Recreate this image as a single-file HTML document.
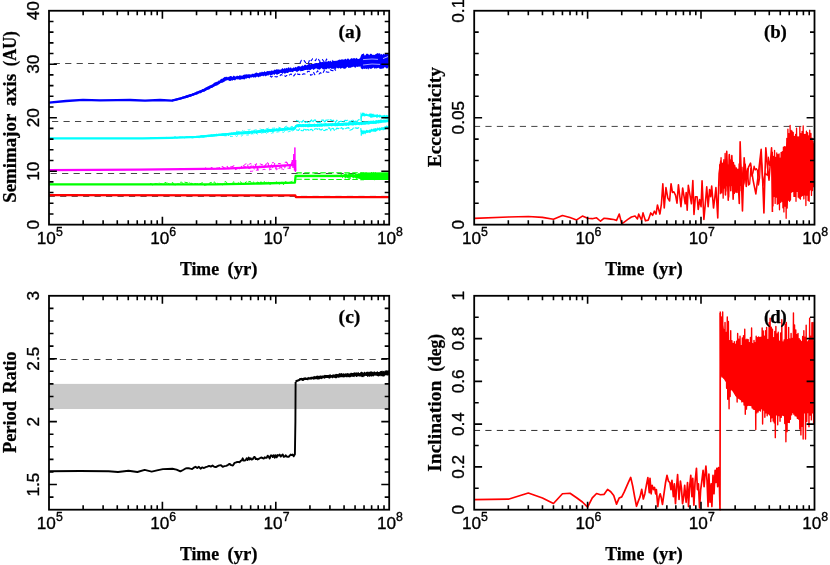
<!DOCTYPE html>
<html><head><meta charset="utf-8"><title>chart</title>
<style>
html,body{margin:0;padding:0;background:#fff;}
body{width:830px;height:565px;overflow:hidden;font-family:"Liberation Sans",sans-serif;}
svg{display:block;will-change:transform;}
text{stroke:#000;stroke-linejoin:round;}
.sa{stroke-width:0.35px;}
.se{stroke-width:0.25px;}
</style></head><body>
<svg width="830" height="565" viewBox="0 0 830 565">
<rect width="830" height="565" fill="#fff"/>
<path d="M49 63.5H389.2" stroke="#111" stroke-width="0.78" stroke-dasharray="6.2 5.27" stroke-dashoffset="6.79" fill="none"/>
<path d="M49 121.5H389.2" stroke="#111" stroke-width="0.78" stroke-dasharray="6.2 5.27" stroke-dashoffset="8.43" fill="none"/>
<path d="M49 173.5H389.2" stroke="#111" stroke-width="0.78" stroke-dasharray="6.2 5.27" stroke-dashoffset="9.87" fill="none"/>
<path d="M49 196.4H389.2" stroke="#111" stroke-width="0.78" stroke-dasharray="6.2 5.27" stroke-dashoffset="0.33" fill="none"/>
<path d="M49 195.1 L295.3 195.4 L295.9 197.2 L389.2 197.2" fill="none" stroke="#f00" stroke-width="2.3" stroke-linejoin="round" stroke-linecap="butt" />
<path d="M49 184.4 L215 184.4 L260 183.5 L294.9 182.6 L295.6 176 L389.2 175.8" fill="none" stroke="#0f0" stroke-width="2.3" stroke-linejoin="round" stroke-linecap="butt" />
<path d="M150 183.65 L151.5 183.98 L153 185.14 L154.5 183.66 L156 183.78 L157.5 184.03 L159 182.72 L160.5 183.77 L162 184.14 L163.5 184.66 L165 182.37 L166.5 183.04 L168 182.33 L169.5 184.68 L171 184.29 L172.5 182.13 L174 185.22 L175.5 185.16 L177 184.12 L178.5 183.99 L180 182.45 L181.5 181.97 L183 183.67 L184.5 182.09 L186 182.51 L187.5 182.67 L189 181.95 L190.5 183.4 L192 183.31 L193.5 184.66 L195 183.55 L196.5 183.95 L198 183.47 L199.5 184.01 L201 183.3 L202.5 182.68 L204 185.13 L205.5 185.12 L207 184.57 L208.5 184.11 L210 182.75 L211.5 182.44 L213 182.63 L214.5 181.86 L216 184.27 L217.5 182.98 L219 184.53 L220.5 182.91 L222 184.9 L223.5 184.51 L225 181.52 L226.5 182.25 L228 184.7 L229.5 183.14 L231 184.94 L232.5 182.86 L234 181.7 L235.5 183.67 L237 184.19 L238.5 182.36 L240 181.7 L241.5 182.57 L243 184.82 L244.5 184.07 L246 181.76 L247.5 182.21 L249 181.67 L250.5 181.51 L252 184.17 L253.5 181.91 L255 183.29 L256.5 182.87 L258 181.92 L259.5 183.89 L261 181.68 L262.5 183.55 L264 181.6 L265.5 182.71 L267 181.93 L268.5 182.13 L270 184.71 L271.5 184.08 L273 182.22 L274.5 184.37 L276 181.85 L277.5 182.52 L279 184.23 L280.5 183.42 L282 181.38 L283.5 184.71 L285 181.78 L286.5 181.94 L288 183.87 L289.5 182.18 L291 182.05 L292.5 181.19 L294 181.24" fill="none" stroke="#0f0" stroke-width="1" stroke-linejoin="round" stroke-linecap="butt" stroke-dasharray="4 1.6"/>
<path d="M296.3 172.9 L364 172.7" fill="none" stroke="#0f0" stroke-width="1.1" stroke-linejoin="round" stroke-linecap="butt" stroke-dasharray="5.5 2.5"/>
<path d="M296.3 179.3 L364 179.6" fill="none" stroke="#0f0" stroke-width="1.1" stroke-linejoin="round" stroke-linecap="butt" stroke-dasharray="5.5 2.5"/>
<path d="M352 175L364 172.5L389.2 172.2V180L364 179.9L352 177Z" fill="#0f0"/>
<path d="M340 175.98 L340.35 176.86 L340.7 176.91 L341.05 174.33 L341.4 173.66 L341.75 175.47 L342.1 174.95 L342.45 177.69 L342.8 177.09 L343.15 176.63 L343.5 176.41 L343.85 176.96 L344.2 174.19 L344.55 175.78 L344.9 174.25 L345.25 178.34 L345.6 173.65 L345.95 177.89 L346.3 173.69 L346.65 177.17 L347 175.16 L347.35 175.55 L347.7 178.1 L348.05 173.26 L348.4 173.49 L348.75 178.59 L349.1 176.15 L349.45 173.61 L349.8 179.09 L350.15 178.86 L350.5 173.69 L350.85 175.62 L351.2 173.79 L351.55 174.9 L351.9 176.88 L352.25 173.92 L352.6 177.38 L352.95 173.15 L353.3 173.93 L353.65 178.2 L354 175.43 L354.35 175.55 L354.7 176.75 L355.05 175.94 L355.4 175.3 L355.75 172.84 L356.1 177.68 L356.45 179.39 L356.8 179.48 L357.15 177.27 L357.5 175.07 L357.85 175.11 L358.2 177.48 L358.55 177.37 L358.9 173.25 L359.25 174.13 L359.6 175.08 L359.95 176.19 L360.3 178.45 L360.65 176.1 L361 172.48 L361.35 178.59 L361.7 175.56 L362.05 176.25 L362.4 173.93 L362.75 175.53 L363.1 175.23 L363.45 178.23 L363.8 172.99 L364.15 176.49 L364.5 173.58 L364.85 177.64 L365.2 172.47 L365.55 174.35 L365.9 174.88 L366.25 177.18 L366.6 172.58 L366.95 175.78 L367.3 173.81 L367.65 174.38 L368 175.91 L368.35 179.72 L368.7 175.95 L369.05 179.7 L369.4 173.47 L369.75 179.46 L370.1 175.02 L370.45 173.64 L370.8 178.07 L371.15 179.37 L371.5 172.18 L371.85 174.26 L372.2 178.25 L372.55 174.84 L372.9 174.04 L373.25 172.19 L373.6 172.43 L373.95 177.05 L374.3 179.96 L374.65 180.08 L375 176.13 L375.35 172.29 L375.7 174.68 L376.05 178.4 L376.4 178.76 L376.75 177.22 L377.1 173.93 L377.45 176.32 L377.8 175.92 L378.15 177.12 L378.5 174.19 L378.85 179.7 L379.2 179.28 L379.55 173.38 L379.9 174.42 L380.25 179.11 L380.6 174.31 L380.95 179.69 L381.3 176.22 L381.65 177.69 L382 177.76 L382.35 173.78 L382.7 174.36 L383.05 174.11 L383.4 177.59 L383.75 177.68 L384.1 173.11 L384.45 179.24 L384.8 175.45 L385.15 173.99 L385.5 175.57 L385.85 180.01 L386.2 176.59 L386.55 177.12 L386.9 179.53 L387.25 179.88 L387.6 178.23 L387.95 175.43 L388.3 176.82 L388.65 179.39" fill="none" stroke="#0f0" stroke-width="0.8" stroke-linejoin="round" stroke-linecap="butt" />
<path d="M49 170.1 L140 169.7 L225 168.6 L260 167 L290 165.2 L294.1 165" fill="none" stroke="#f0f" stroke-width="2.3" stroke-linejoin="round" stroke-linecap="butt" />
<path d="M205 167.84 L206.7 168.66 L208.4 168.54 L210.1 168.2 L211.8 167.59 L213.5 168.82 L215.2 168.85 L216.9 168.1 L218.6 168.04 L220.3 167.23 L222 166.46 L223.7 167.49 L225.4 168.12 L227.1 166.35 L228.8 168.79 L230.5 166.74 L232.2 166.66 L233.9 165.84 L235.6 169.61 L237.3 168.54 L239 169.15 L240.7 167.94 L242.4 165 L244.1 166.37 L245.8 167.19 L247.5 164.96 L249.2 169.74 L250.9 166.21 L252.6 164.76 L254.3 168.97 L256 164.27 L257.7 169.77 L259.4 166.36 L261.1 167.02 L262.8 165.36 L264.5 166.35 L266.2 163.94 L267.9 162.66 L269.6 169.09 L271.3 163.99 L273 168.27 L274.7 163.56 L276.4 169.66 L278.1 168.99 L279.8 167.77 L281.5 167.76 L283.2 166.15 L284.9 167.34 L286.6 162.05 L288.3 164.99 L290 167.96 L291.7 162.39" fill="none" stroke="#f0f" stroke-width="1.05" stroke-linejoin="round" stroke-linecap="butt" stroke-dasharray="4 2"/>
<path d="M291.5 166 L292.3 160 L293.1 168 L293.8 154 L294.4 170.5 L294.9 147.5 L295.4 172 L295.7 160 L296 171" fill="none" stroke="#f0f" stroke-width="1" stroke-linejoin="round" stroke-linecap="butt" />
<path d="M49 138.4 L142.6 138.3 L170 137.8 L196.8 136.9 L225 134.4 L260 131.4 L294.8 128.4 L296.2 125.8 L338 124.5 L364.5 123.2 L389 120.6" fill="none" stroke="#0ff" stroke-width="2.3" stroke-linejoin="round" stroke-linecap="butt" />
<path d="M150 137.77 L151.5 137.8 L153 138.01 L154.5 138.26 L156 137.7 L157.5 137.63 L159 137.71 L160.5 138.26 L162 137.53 L163.5 138.21 L165 138.09 L166.5 137.39 L168 137.88 L169.5 137.74 L171 137.64 L172.5 138.44 L174 137.06 L175.5 136.88 L177 138.25 L178.5 137.36 L180 136.97 L181.5 137.13 L183 137.13 L184.5 138.1 L186 136.75 L187.5 136.71 L189 137.32 L190.5 137.2 L192 137.92 L193.5 137.66 L195 136.68 L196.5 136.32 L198 137.48 L199.5 137.69 L201 135.52 L202.5 136.91 L204 137.09 L205.5 136.48 L207 135.33 L208.5 136.58 L210 136.3 L211.5 134.82 L213 135.83 L214.5 134.59 L216 133.97 L217.5 134.62 L219 134.47 L220.5 134.5 L222 135.09 L223.5 135.52 L225 135.78 L226.5 135.72 L228 135.67 L229.5 134.92 L231 133.27 L232.5 132.72 L234 134.03 L235.5 133.65 L237 133.95 L238.5 131.87 L240 132.06 L241.5 134.45 L243 133.21 L244.5 133.42 L246 131.14 L247.5 132.1 L249 133.85 L250.5 132.77 L252 133.94 L253.5 130.8 L255 131.65 L256.5 132.87 L258 131.35 L259.5 132.59 L261 131.56 L262.5 129.64 L264 129.42 L265.5 132.9 L267 129.23 L268.5 129.4 L270 129.85 L271.5 131.3 L273 131.78 L274.5 130.05 L276 130.01 L277.5 131.13 L279 128.8 L280.5 129.08 L282 130 L283.5 129.97 L285 127.2 L286.5 127.39 L288 127.36 L289.5 129.87 L291 129.6 L292.5 130.76 L294 129.7" fill="none" stroke="#0ff" stroke-width="1" stroke-linejoin="round" stroke-linecap="butt" stroke-dasharray="5 1.2"/>
<path d="M296 120.33 L297.2 120.73 L298.4 120.98 L299.6 122.76 L300.8 121.53 L302 122.19 L303.2 120.32 L304.4 121.53 L305.6 122.52 L306.8 121.54 L308 122.79 L309.2 122.59 L310.4 121.04 L311.6 119.92 L312.8 122.17 L314 120.27 L315.2 119.9 L316.4 122.05 L317.6 122.37 L318.8 122.34 L320 122.68 L321.2 120.41 L322.4 120.03 L323.6 120.14 L324.8 122.69 L326 120.08 L327.2 120.21 L328.4 119.78 L329.6 119.85 L330.8 119.81 L332 120.75 L333.2 120.17 L334.4 120.6 L335.6 122.45 L336.8 120.16 L338 122.09 L339.2 121.85 L340.4 121.34 L341.6 121.35 L342.8 121.92 L344 121.37 L345.2 120.29 L346.4 120.58 L347.6 120.31 L348.8 120.78 L350 122.53 L351.2 120.84 L352.4 119.76 L353.6 120.97 L354.8 121.97 L356 120.86 L357.2 121.62 L358.4 119.78 L359.6 119.69" fill="none" stroke="#0ff" stroke-width="1.15" stroke-linejoin="round" stroke-linecap="butt" stroke-dasharray="5 1"/>
<path d="M296 129.81 L297.2 129.98 L298.4 130.52 L299.6 128.89 L300.8 130 L302 130.7 L303.2 130.74 L304.4 128.56 L305.6 129.94 L306.8 129.82 L308 129.47 L309.2 130.84 L310.4 129.52 L311.6 129.25 L312.8 130.73 L314 129.8 L315.2 128.78 L316.4 128.79 L317.6 129.33 L318.8 127.99 L320 129.64 L321.2 130.01 L322.4 129.07 L323.6 130.32 L324.8 130.55 L326 129.41 L327.2 129.78 L328.4 128.07 L329.6 127.87 L330.8 130.63 L332 128.54 L333.2 128.32 L334.4 130.36 L335.6 129.91 L336.8 128.02 L338 128.61 L339.2 128.37 L340.4 128.45 L341.6 127.64 L342.8 129.19 L344 128.52 L345.2 128.78 L346.4 128.15 L347.6 127.91 L348.8 127.67 L350 130.18 L351.2 129.8 L352.4 129.23 L353.6 127.91 L354.8 127.98 L356 127.88 L357.2 128.47 L358.4 127.68 L359.6 128.33" fill="none" stroke="#0ff" stroke-width="1.15" stroke-linejoin="round" stroke-linecap="butt" stroke-dasharray="5 1"/>
<path d="M49 102.6 L66 101 L83 99.8 L100 100.4 L117 100.1 L130 100 L145 100.7 L160 100 L171.9 100.6 L180 98.6 L190 95.6 L196.8 93 L205 89.6 L213.3 85.4 L225.2 79.2 L239.8 77.5 L253 75.7 L266.3 73.5 L279.5 71.5 L292.8 69.8 L306 67.8 L315.3 66 L340.6 64 L360.8 62.1 L378.6 60.9 L389 60.4" fill="none" stroke="#00f" stroke-width="2.3" stroke-linejoin="round" stroke-linecap="butt" />
<path d="M172 99.72 L172.9 99.53 L173.8 99.3 L174.7 99.01 L175.6 98.77 L176.5 98.62 L177.4 98.36 L178.3 97.91 L179.2 97.62 L180.1 97.68 L181 97.14 L181.9 97.08 L182.8 96.52 L183.7 96.56 L184.6 95.94 L185.5 95.85 L186.4 95.36 L187.3 95 L188.2 94.73 L189.1 94.58 L190 94.08 L190.9 94.08 L191.8 93.96 L192.7 93.17 L193.6 92.96 L194.5 92.81 L195.4 92.5 L196.3 91.5 L197.2 91.83 L198.1 90.91 L199 90.84 L199.9 90.55 L200.8 90.29 L201.7 89.87 L202.6 89.03 L203.5 88.94 L204.4 88.5 L205.3 87.77 L206.2 87.28 L207.1 87.35 L208 86 L208.9 86.49 L209.8 85.25 L210.7 85.6 L211.6 84.76 L212.5 84.66 L213.4 83.38 L214.3 82.78 L215.2 82.31 L216.1 82.37 L217 81.49 L217.9 81.84 L218.8 80.35 L219.7 80.67 L220.6 79.3 L221.5 78.71 L222.4 78.84 L223.3 78.12 L224.2 77.36 L225.1 76.8 L226 77.13 L226.9 76.54 L227.8 77.46 L228.7 76.76 L229.6 76.61 L230.5 76.07 L231.4 76.12 L232.3 77.19 L233.2 75.68 L234.1 75.71 L235 76.38 L235.9 76.76 L236.8 75.71 L237.7 75.81 L238.6 76.21 L239.5 75.32 L240.4 75.43 L241.3 75.58 L242.2 75.92 L243.1 74.95 L244 74.63 L244.9 74.62 L245.8 74.6 L246.7 74.16 L247.6 74.4 L248.5 74.37 L249.4 74.23 L250.3 74.39 L251.2 74.65 L252.1 73.43 L253 73.95 L253.9 73.75 L254.8 73.5 L255.7 72.78 L256.6 72.58 L257.5 72.98 L258.4 73.49 L259.3 72.47 L260.2 72.15 L261.1 72.45 L262 71.62 L262.9 72.21 L263.8 71.89 L264.7 71.09 L265.6 72.2 L266.5 71.42 L267.4 71 L268.3 71.33 L269.2 70.82 L270.1 71.6 L271 70.58 L271.9 70.58 L272.8 70.68 L273.7 70.54 L274.6 69.43 L275.5 69.93 L276.4 69.17 L277.3 69.49 L278.2 69.15 L279.1 69.68 L280 69.41 L280.9 69.71 L281.8 68.74 L282.7 68.12 L283.6 69.14 L284.5 68.12 L285.4 68.76 L286.3 67.7 L287.2 68.39 L288.1 67.6 L289 67.24 L289.9 68.59 L290.8 67.07 L291.7 68.38 L292.6 68.35 L293.5 67.18 L294.4 68.07 L295.3 66.8 L296.2 67.41 L297.1 66.98 L298 65.95 L298.9 66.34 L299.8 66.15 L300.7 66.76 L301.6 66.12 L302.5 65.31 L303.4 66.27 L304.3 64.92 L305.2 64.58 L306.1 65.36 L307 65.34 L307.9 64.49 L308.8 63.89 L309.7 63.48 L310.6 64.52 L311.5 63.71 L312.4 64.09 L313.3 63.98 L314.2 63.5 L315.1 63.15 L316 63.05 L316.9 62.95 L317.8 63.36 L318.7 62.94 L319.6 61.75 L320.5 61.8 L321.4 62.25 L322.3 61.86 L323.2 62.34 L324.1 61.51 L325 62.13 L325.9 61.25 L326.8 61.65 L327.7 61.41 L328.6 60.75 L329.5 61.89 L330.4 60.56 L331.3 61.69 L332.2 61.63 L333.1 60.68 L334 60.85 L334.9 61.01 L335.8 60.69 L336.7 60.7 L337.6 60.51 L338.5 59.88 L339.4 59.55 L340.3 59.92 L341.2 59.37 L342.1 59.69 L343 59.12 L343.9 59.91 L344.8 59 L345.7 58.79 L346.6 59.65 L347.5 58.55 L348.4 58.5 L349.3 59.77 L350.2 59.33 L351.1 58.27 L352 58.31 L352.9 58.83 L353.8 57.95 L354.7 58.25 L355.6 58.82 L356.5 57.73 L357.4 58.67 L358.3 58.93 L359.2 58.86 L360.1 58.09 L361 55.53 L361.9 54.07 L362.8 53.99 L363.7 53.26 L364.6 55.47 L365.5 55.24 L366.4 53.75 L367.3 53.87 L368.2 53.98 L369.1 55.27 L370 54.37 L370.9 53.45 L371.8 54.31 L372.7 54.99 L373.6 54.73 L374.5 54.96 L375.4 54.16 L376.3 54.05 L377.2 52.99 L378.1 53.5 L379 53.41 L379.9 53.29 L380.8 54.78 L381.7 53.8 L382.6 55.12 L383.5 53.55 L384.4 54.58 L385.3 53.76 L386.2 53.99 L387.1 54.37 L388 53.23 L388.9 53.31 L388.9 66.25 L388 67.9 L387.1 68.54 L386.2 68.25 L385.3 67.25 L384.4 67.25 L383.5 68.5 L382.6 68.54 L381.7 68.73 L380.8 68.79 L379.9 69.01 L379 68.12 L378.1 67.66 L377.2 68.25 L376.3 68.46 L375.4 68.36 L374.5 68.65 L373.6 67.4 L372.7 67.89 L371.8 68.44 L370.9 68.92 L370 68.46 L369.1 68.19 L368.2 69.67 L367.3 68.35 L366.4 69.31 L365.5 68.42 L364.6 69.1 L363.7 68.42 L362.8 69.14 L361.9 68.99 L361 68.23 L360.1 65.94 L359.2 67.1 L358.3 66.4 L357.4 67.11 L356.5 66.49 L355.6 67.78 L354.7 67.39 L353.8 66.61 L352.9 67.14 L352 66.87 L351.1 67.78 L350.2 67.84 L349.3 67.69 L348.4 68.11 L347.5 66.75 L346.6 67.49 L345.7 68.53 L344.8 68.64 L343.9 68.66 L343 68.37 L342.1 67.85 L341.2 68.61 L340.3 68.73 L339.4 67.72 L338.5 68.48 L337.6 68.37 L336.7 67.45 L335.8 69.22 L334.9 68.57 L334 69.33 L333.1 68.46 L332.2 69 L331.3 68.8 L330.4 67.98 L329.5 68.76 L328.6 68.72 L327.7 68.19 L326.8 69.09 L325.9 69.46 L325 68.78 L324.1 69.3 L323.2 69.44 L322.3 68.85 L321.4 68.03 L320.5 68.9 L319.6 69.66 L318.7 69.29 L317.8 69.51 L316.9 68.48 L316 68.57 L315.1 68.64 L314.2 69.5 L313.3 69.99 L312.4 68.78 L311.5 69.37 L310.6 70.06 L309.7 70.21 L308.8 69.4 L307.9 70.58 L307 69.8 L306.1 69.89 L305.2 69.99 L304.3 70.35 L303.4 70.65 L302.5 71.06 L301.6 70.88 L300.7 71.54 L299.8 70.33 L298.9 70.97 L298 71.34 L297.1 72.2 L296.2 71.51 L295.3 70.89 L294.4 71.08 L293.5 71.62 L292.6 72.16 L291.7 71.63 L290.8 71.98 L289.9 71.79 L289 71.94 L288.1 72.97 L287.2 72.93 L286.3 72.76 L285.4 73.38 L284.5 73.63 L283.6 72.51 L282.7 73.95 L281.8 73.17 L280.9 72.84 L280 73.06 L279.1 73.9 L278.2 74 L277.3 74.7 L276.4 74.58 L275.5 73.48 L274.6 74.94 L273.7 74.14 L272.8 74.38 L271.9 75.05 L271 75.24 L270.1 75.51 L269.2 74.35 L268.3 75.81 L267.4 75.22 L266.5 75.69 L265.6 76.39 L264.7 75.2 L263.8 76.47 L262.9 75.57 L262 76.19 L261.1 75.71 L260.2 77 L259.3 76.53 L258.4 77.4 L257.5 76.48 L256.6 76.45 L255.7 77.63 L254.8 76.95 L253.9 77.63 L253 77.34 L252.1 77.01 L251.2 77.87 L250.3 77.2 L249.4 78.68 L248.5 77.92 L247.6 77.76 L246.7 78.66 L245.8 78.2 L244.9 79.37 L244 79.5 L243.1 79.09 L242.2 79.26 L241.3 79.27 L240.4 79.68 L239.5 79.64 L238.6 79.35 L237.7 79.43 L236.8 79.07 L235.9 79.6 L235 80.41 L234.1 80.11 L233.2 80.06 L232.3 80.63 L231.4 80.15 L230.5 80.89 L229.6 81.01 L228.7 80.45 L227.8 80.07 L226.9 80.45 L226 80.29 L225.1 81.31 L224.2 81.75 L223.3 82.13 L222.4 82.75 L221.5 82.76 L220.6 82.97 L219.7 83.63 L218.8 84.53 L217.9 84.85 L217 85.68 L216.1 85.48 L215.2 85.95 L214.3 86.41 L213.4 86.94 L212.5 87.68 L211.6 88.01 L210.7 87.91 L209.8 89.22 L208.9 89.34 L208 90.03 L207.1 89.59 L206.2 90.53 L205.3 91 L204.4 91.84 L203.5 91.67 L202.6 91.95 L201.7 92.56 L200.8 93.21 L199.9 93.27 L199 93.34 L198.1 93.89 L197.2 94.53 L196.3 94.66 L195.4 94.8 L194.5 95.19 L193.6 95.8 L192.7 95.73 L191.8 96.2 L190.9 96.61 L190 97.12 L189.1 96.83 L188.2 97.44 L187.3 97.75 L186.4 97.95 L185.5 98.32 L184.6 98.27 L183.7 98.42 L182.8 99.09 L181.9 99.01 L181 99.56 L180.1 99.59 L179.2 99.92 L178.3 99.94 L177.4 100.35 L176.5 100.49 L175.6 100.73 L174.7 100.76 L173.8 100.95 L172.9 101.23 L172 101.47Z" fill="#00f"/>
<path d="M363 59.6 L372 59 L378 59.4" fill="none" stroke="#fff" stroke-width="0.8" stroke-linejoin="round" stroke-linecap="butt" opacity="0.8"/>
<path d="M363 65 L372 64 L380 64.4" fill="none" stroke="#fff" stroke-width="0.8" stroke-linejoin="round" stroke-linecap="butt" opacity="0.8"/>
<path d="M383 58.6 L388 56.6" fill="none" stroke="#fff" stroke-width="0.9" stroke-linejoin="round" stroke-linecap="butt" opacity="0.8"/>
<path d="M300 63.28 L301.4 60.35 L302.8 61.01 L304.2 60.63 L305.6 62.65 L307 62.27 L308.4 63.12 L309.8 59.33 L311.2 60.71 L312.6 58.69 L314 59.42 L315.4 60.69 L316.8 58.1 L318.2 58.86 L319.6 61.32 L321 60.92 L322.4 59.49 L323.8 61.4 L325.2 62.54 L326.6 59.06 L328 62.73 L329.4 62.38 L330.8 61.02 L332.2 60.43 L333.6 63.47" fill="none" stroke="#00f" stroke-width="1.1" stroke-linejoin="round" stroke-linecap="butt" stroke-dasharray="3.5 2.2"/>
<path d="M270 75.84 L271.4 77.12 L272.8 75.76 L274.2 76.35 L275.6 76.72 L277 76.91 L278.4 75.93 L279.8 75.92 L281.2 74.49 L282.6 75.48 L284 75.18 L285.4 76.46 L286.8 75.43 L288.2 75.96 L289.6 74.83 L291 73.85 L292.4 76.01 L293.8 75.83 L295.2 74.1 L296.6 72.89 L298 74.38 L299.4 74.2 L300.8 75.27 L302.2 74.41 L303.6 73.89 L305 74.07 L306.4 73.06 L307.8 71.44 L309.2 71.36 L310.6 75.29 L312 74.7 L313.4 72.05 L314.8 74.71 L316.2 72.86 L317.6 70.73 L319 74.11 L320.4 72.58 L321.8 73.88 L323.2 72.49 L324.6 69.75 L326 71.73 L327.4 72.13 L328.8 72.29 L330.2 69.88 L331.6 70.37 L333 70.73 L334.4 68.69 L335.8 70.65" fill="none" stroke="#00f" stroke-width="1.1" stroke-linejoin="round" stroke-linecap="butt" stroke-dasharray="3.5 2.2"/>
<path d="M200 135.67 L200.8 135.61 L201.6 135.52 L202.4 135.29 L203.2 135.21 L204 135.23 L204.8 135.14 L205.6 134.96 L206.4 134.89 L207.2 135.06 L208 134.86 L208.8 134.87 L209.6 134.74 L210.4 134.51 L211.2 134.64 L212 134.5 L212.8 134.41 L213.6 134.17 L214.4 134.15 L215.2 134.14 L216 133.94 L216.8 134.19 L217.6 133.98 L218.4 133.71 L219.2 133.65 L220 133.84 L220.8 133.66 L221.6 133.47 L222.4 133.3 L223.2 133.3 L224 133.17 L224.8 133.25 L225.6 133.06 L226.4 132.98 L227.2 133.24 L228 133.15 L228.8 132.86 L229.6 132.66 L230.4 132.64 L231.2 132.81 L232 132.81 L232.8 132.51 L233.6 132.22 L234.4 132.19 L235.2 132.31 L236 132.16 L236.8 132.01 L237.6 132.1 L238.4 132.27 L239.2 131.84 L240 131.83 L240.8 131.54 L241.6 131.61 L242.4 131.52 L243.2 131.84 L244 131.62 L244.8 131.14 L245.6 131.41 L246.4 131.34 L247.2 131.16 L248 131.02 L248.8 131.11 L249.6 131.09 L250.4 131.21 L251.2 130.6 L252 130.82 L252.8 130.52 L253.6 130.91 L254.4 130.26 L255.2 130.79 L256 130.68 L256.8 130.3 L257.6 130.49 L258.4 130.33 L259.2 129.8 L260 130.37 L260.8 130 L261.6 129.68 L262.4 129.76 L263.2 129.44 L264 129.59 L264.8 129.84 L265.6 129.47 L266.4 129.7 L267.2 129.45 L268 129 L268.8 129.27 L269.6 128.83 L270.4 129.1 L271.2 128.78 L272 128.89 L272.8 128.55 L273.6 128.92 L274.4 128.43 L275.2 128.97 L276 128.27 L276.8 128.32 L277.6 128.66 L278.4 128.17 L279.2 128.34 L280 128.23 L280.8 128.53 L281.6 128.25 L282.4 128.02 L283.2 128.11 L284 128.12 L284.8 127.62 L285.6 127.57 L286.4 127.64 L287.2 127.95 L288 127.61 L288.8 127.79 L289.6 127.75 L290.4 127.65 L291.2 127.3 L292 127.41 L292.8 127.13 L293.6 126.99 L294.4 126.98 L295.2 125.95 L296 125.05 L296.8 124.31 L297.6 124.29 L298.4 124.08 L299.2 124.06 L300 124.13 L300.8 124 L301.6 124.4 L302.4 123.97 L303.2 123.91 L304 123.97 L304.8 124.38 L305.6 123.83 L306.4 124.25 L307.2 124.09 L308 124.16 L308.8 123.72 L309.6 123.54 L310.4 124.1 L311.2 123.92 L312 123.93 L312.8 124.14 L313.6 123.98 L314.4 123.56 L315.2 124.02 L316 124.06 L316.8 123.93 L317.6 123.39 L318.4 123.78 L319.2 123.79 L320 123.76 L320.8 123.56 L321.6 123.23 L322.4 123.66 L323.2 123.63 L324 123.17 L324.8 123.57 L325.6 123.12 L326.4 123.19 L327.2 123.69 L328 123.55 L328.8 123.34 L329.6 123.46 L330.4 123.17 L331.2 123.15 L332 123.32 L332.8 122.79 L333.6 123.45 L334.4 123.1 L335.2 122.89 L336 123.08 L336.8 123.23 L337.6 122.75 L338.4 122.57 L339.2 122.73 L340 123.15 L340.8 122.93 L341.6 122.74 L342.4 123.12 L343.2 122.51 L344 122.8 L344.8 122.53 L345.6 122.4 L346.4 122.53 L347.2 122.8 L348 122.45 L348.8 122.11 L349.6 122.62 L350.4 122.54 L351.2 122.56 L352 122.02 L352.8 121.86 L353.6 121.99 L354.4 122.11 L355.2 122.18 L356 122.33 L356.8 121.81 L357.6 122.35 L358.4 122.05 L359.2 121.93 L360 122.07 L360.8 121.74 L361.6 121.49 L362.4 122.12 L363.2 121.46 L364 121.62 L364.8 121.25 L365.6 121.18 L366.4 121.25 L367.2 121.7 L368 120.88 L368.8 120.79 L369.6 121.11 L370.4 120.65 L371.2 120.85 L372 120.64 L372.8 120.65 L373.6 120.36 L374.4 120.95 L375.2 120.71 L376 120.07 L376.8 120.18 L377.6 120.43 L378.4 119.82 L379.2 120.22 L380 119.84 L380.8 119.53 L381.6 119.61 L382.4 120.09 L383.2 119.42 L384 119.71 L384.8 119.52 L385.6 119.69 L386.4 119.63 L387.2 119.37 L388 119.43 L388.8 119.36 L388.8 122.22 L388 122.49 L387.2 122.06 L386.4 122.39 L385.6 122.57 L384.8 122.46 L384 122.59 L383.2 122.44 L382.4 122.56 L381.6 122.64 L380.8 123.25 L380 122.75 L379.2 123.5 L378.4 123.43 L377.6 123.23 L376.8 123.79 L376 123.79 L375.2 123.99 L374.4 123.78 L373.6 124.07 L372.8 123.81 L372 123.97 L371.2 123.81 L370.4 123.77 L369.6 124.19 L368.8 124.69 L368 124.2 L367.2 124.47 L366.4 124.35 L365.6 124.72 L364.8 124.49 L364 125.03 L363.2 124.45 L362.4 124.78 L361.6 125.28 L360.8 124.68 L360 124.86 L359.2 125.38 L358.4 124.82 L357.6 124.78 L356.8 125 L356 125.21 L355.2 125.16 L354.4 125.04 L353.6 125.62 L352.8 125.42 L352 125.38 L351.2 125.13 L350.4 125.23 L349.6 125.33 L348.8 125.8 L348 125.82 L347.2 125.37 L346.4 125.9 L345.6 125.68 L344.8 125.6 L344 125.61 L343.2 125.98 L342.4 126 L341.6 125.66 L340.8 125.92 L340 126.08 L339.2 125.84 L338.4 125.97 L337.6 126.33 L336.8 126.37 L336 125.91 L335.2 126.48 L334.4 125.98 L333.6 125.86 L332.8 125.83 L332 126.5 L331.2 126.36 L330.4 126.08 L329.6 126.06 L328.8 126.41 L328 126.1 L327.2 126.39 L326.4 126.29 L325.6 126.31 L324.8 126.58 L324 126.21 L323.2 126.1 L322.4 126.66 L321.6 126.83 L320.8 126.57 L320 126.76 L319.2 126.7 L318.4 126.54 L317.6 126.89 L316.8 126.8 L316 126.49 L315.2 126.68 L314.4 127 L313.6 126.5 L312.8 126.57 L312 126.97 L311.2 126.94 L310.4 126.79 L309.6 127 L308.8 127.14 L308 127.23 L307.2 127.26 L306.4 126.62 L305.6 127.3 L304.8 126.81 L304 127 L303.2 127.26 L302.4 126.88 L301.6 127.26 L300.8 126.85 L300 127.15 L299.2 127.03 L298.4 127.39 L297.6 127.35 L296.8 127.01 L296 127.56 L295.2 129.25 L294.4 130.18 L293.6 130.15 L292.8 129.74 L292 130.4 L291.2 130.04 L290.4 130.25 L289.6 130.29 L288.8 130.12 L288 130.56 L287.2 130.5 L286.4 130.48 L285.6 130.76 L284.8 130.4 L284 130.75 L283.2 130.57 L282.4 131.1 L281.6 130.67 L280.8 131.27 L280 130.75 L279.2 131.39 L278.4 130.94 L277.6 131.06 L276.8 131.15 L276 131.23 L275.2 131.19 L274.4 131.56 L273.6 131.85 L272.8 131.93 L272 131.78 L271.2 131.95 L270.4 131.95 L269.6 131.7 L268.8 131.74 L268 132.35 L267.2 131.96 L266.4 132.26 L265.6 132.4 L264.8 132.63 L264 132.63 L263.2 132.59 L262.4 132.67 L261.6 132.37 L260.8 132.87 L260 132.89 L259.2 132.9 L258.4 133.07 L257.6 133.19 L256.8 133.22 L256 133.08 L255.2 133.46 L254.4 133.39 L253.6 133.14 L252.8 133.24 L252 133.13 L251.2 133.3 L250.4 133.31 L249.6 133.67 L248.8 133.81 L248 133.76 L247.2 133.88 L246.4 133.75 L245.6 134.13 L244.8 134.14 L244 134.21 L243.2 134.26 L242.4 134.16 L241.6 134.33 L240.8 134.18 L240 134.36 L239.2 134.55 L238.4 134.57 L237.6 134.79 L236.8 134.42 L236 134.64 L235.2 134.57 L234.4 134.71 L233.6 134.9 L232.8 134.98 L232 134.98 L231.2 135.28 L230.4 135.17 L229.6 135.07 L228.8 135.28 L228 135.35 L227.2 135.35 L226.4 135.59 L225.6 135.68 L224.8 135.58 L224 135.7 L223.2 135.9 L222.4 135.9 L221.6 135.89 L220.8 135.76 L220 135.92 L219.2 136.05 L218.4 135.96 L217.6 136.06 L216.8 136.21 L216 136.29 L215.2 136.26 L214.4 136.53 L213.6 136.6 L212.8 136.69 L212 136.73 L211.2 136.77 L210.4 136.83 L209.6 136.91 L208.8 136.92 L208 137.04 L207.2 136.96 L206.4 137.18 L205.6 137.13 L204.8 137.19 L204 137.32 L203.2 137.41 L202.4 137.4 L201.6 137.5 L200.8 137.62 L200 137.62Z" fill="#0ff"/>
<path d="M360.6 116.23 L361.5 114.23 L362.4 112.62 L363.3 112.73 L364.2 112.69 L365.1 113.98 L366 113.38 L366.9 113.82 L367.8 114.37 L368.7 114.2 L369.6 113.45 L370.5 113.4 L371.4 113.42 L372.3 113.97 L373.2 113.58 L374.1 114.77 L375 114.26 L375.9 114.99 L376.8 114.15 L377.7 114.29 L378.6 115.3 L379.5 114.43 L380.4 114.8 L381.3 115.38 L382.2 115.44 L383.1 115.25 L384 115.14 L384.9 114.74 L385.8 115.7 L386.7 114.72 L387.6 115.39 L388.5 114.92 L388.5 118.1 L387.6 119.1 L386.7 118.83 L385.8 118.96 L384.9 118.62 L384 118.2 L383.1 118.14 L382.2 118.13 L381.3 117.43 L380.4 117.35 L379.5 117.81 L378.6 116.95 L377.7 117.51 L376.8 118.02 L375.9 117 L375 116.92 L374.1 117.36 L373.2 117.32 L372.3 117.44 L371.4 117.78 L370.5 117.64 L369.6 116.84 L368.7 116.55 L367.8 116.32 L366.9 116.01 L366 115.97 L365.1 116.37 L364.2 116.4 L363.3 115.94 L362.4 116.24 L361.5 117.65 L360.6 119.38Z" fill="#0ff"/>
<path d="M360.6 127.77 L361.5 130.14 L362.4 130.51 L363.3 130.62 L364.2 130.24 L365.1 131.09 L366 130.03 L366.9 129.84 L367.8 130.22 L368.7 130.23 L369.6 129.62 L370.5 129.71 L371.4 128.52 L372.3 129.39 L373.2 128.6 L374.1 128.76 L375 128.06 L375.9 128.36 L376.8 128.5 L377.7 127.22 L378.6 128.24 L379.5 127.26 L380.4 128 L381.3 127.29 L382.2 127.34 L383.1 127.29 L384 127.01 L384.9 126.16 L385.8 126.21 L386.7 125.33 L387.6 126.24 L388.5 125.24 L388.5 128.58 L387.6 128.59 L386.7 128.59 L385.8 129.31 L384.9 129.7 L384 129.71 L383.1 130.48 L382.2 129.87 L381.3 129.98 L380.4 130.39 L379.5 131.1 L378.6 130.11 L377.7 130.59 L376.8 130.96 L375.9 131.87 L375 131.97 L374.1 131.39 L373.2 131.83 L372.3 131.54 L371.4 131.68 L370.5 132.78 L369.6 132.95 L368.7 132.38 L367.8 133.02 L366.9 132.81 L366 133.14 L365.1 134.43 L364.2 133.19 L363.3 134.41 L362.4 134.3 L361.5 133.49 L360.6 131.64Z" fill="#0ff"/>
<path d="M360.9 112.6 L361.2 121 L361.5 114" fill="none" stroke="#0ff" stroke-width="0.9" stroke-linejoin="round" stroke-linecap="butt" />
<path d="M360.9 128 L361.3 135.6 L361.7 130" fill="none" stroke="#0ff" stroke-width="0.9" stroke-linejoin="round" stroke-linecap="butt" />
<path d="M236 131.31 L237.3 131.3 L238.6 131.65 L239.9 131.64 L241.2 131.5 L242.5 130.46 L243.8 131.4 L245.1 130.34 L246.4 130.02 L247.7 129.52 L249 130.16 L250.3 129.41 L251.6 129.51 L252.9 130.01 L254.2 130.19 L255.5 130.04 L256.8 128.73 L258.1 128.57 L259.4 128.81 L260.7 129.23 L262 129.64 L263.3 129.46 L264.6 129.58 L265.9 128.85 L267.2 128.83 L268.5 128.09 L269.8 128.02 L271.1 127.71 L272.4 128.19 L273.7 128.21 L275 128.04 L276.3 127.6 L277.6 127.55 L278.9 127.12 L280.2 128.03 L281.5 127.49 L282.8 127.68 L284.1 127.68 L285.4 126.62 L286.7 126.21 L288 126.4 L289.3 127.41 L290.6 127.09 L291.9 126.28 L293.2 126.84" fill="none" stroke="#0ff" stroke-width="0.9" stroke-linejoin="round" stroke-linecap="butt" stroke-dasharray="3 3.5"/>
<path d="M230 136.26 L231.3 136.51 L232.6 136.39 L233.9 136.49 L235.2 135.34 L236.5 136.45 L237.8 135.62 L239.1 135.84 L240.4 135.74 L241.7 135.94 L243 134.65 L244.3 134.71 L245.6 135.23 L246.9 134.88 L248.2 135.06 L249.5 134.26 L250.8 135.21 L252.1 133.4 L253.4 134.56 L254.7 133.83 L256 133.09 L257.3 134.15 L258.6 132.91 L259.9 133.13 L261.2 133.18 L262.5 132.77 L263.8 132.67 L265.1 132.39 L266.4 133.67 L267.7 132.19 L269 132.21 L270.3 131.95 L271.6 133.34 L272.9 132.57 L274.2 132.96 L275.5 133.11 L276.8 132.14 L278.1 131.85 L279.4 131.73 L280.7 131.39 L282 131.87 L283.3 132.43 L284.6 131.49 L285.9 131.83 L287.2 131.96 L288.5 131.74 L289.8 131.34 L291.1 131.01 L292.4 130.08 L293.7 130.47" fill="none" stroke="#0ff" stroke-width="0.9" stroke-linejoin="round" stroke-linecap="butt" stroke-dasharray="3 3"/>
<path d="M244 165.65 L245.4 163.95 L246.8 163.65 L248.2 165.54 L249.6 163.84 L251 163.65 L252.4 164.65 L253.8 163.97 L255.2 165 L256.6 163.62 L258 165.01 L259.4 163.67 L260.8 164.15 L262.2 164.73 L263.6 164.15 L265 164.55 L266.4 164.03 L267.8 162.63 L269.2 164.21 L270.6 163.54 L272 162.9 L273.4 162.58 L274.8 163.81 L276.2 163.19 L277.6 163.82 L279 163.41 L280.4 163.7 L281.8 162.82 L283.2 163 L284.6 162.75 L286 161.96 L287.4 163.27 L288.8 161.9 L290.2 162.75" fill="none" stroke="#f0f" stroke-width="1" stroke-linejoin="round" stroke-linecap="butt" stroke-dasharray="3.2 3.8"/>
<path d="M250 171.31 L251.4 171.29 L252.8 171.11 L254.2 169.43 L255.6 170.39 L257 169.98 L258.4 170.13 L259.8 169.27 L261.2 169.31 L262.6 169.73 L264 169.2 L265.4 169.59 L266.8 168.64 L268.2 168.68 L269.6 169.84 L271 169.18 L272.4 169.28 L273.8 169.64 L275.2 168.81 L276.6 168.12 L278 169.49 L279.4 169.01 L280.8 169.07 L282.2 168.91 L283.6 169.53 L285 168.23 L286.4 168.94 L287.8 168.07 L289.2 168.39 L290.6 168.49" fill="none" stroke="#f0f" stroke-width="1" stroke-linejoin="round" stroke-linecap="butt" stroke-dasharray="3.2 3.8"/>
<rect x="49" y="10.75" width="340.2" height="213.9" fill="none" stroke="#000" stroke-width="1.8"/>
<path d="M83.14 224.65v-4.5M83.14 10.75v4.5M103.11 224.65v-4.5M103.11 10.75v4.5M117.27 224.65v-4.5M117.27 10.75v4.5M128.26 224.65v-4.5M128.26 10.75v4.5M137.24 224.65v-4.5M137.24 10.75v4.5M144.83 224.65v-4.5M144.83 10.75v4.5M151.41 224.65v-4.5M151.41 10.75v4.5M157.21 224.65v-4.5M157.21 10.75v4.5M162.4 224.65v-7.9M162.4 10.75v7.9M196.54 224.65v-4.5M196.54 10.75v4.5M216.51 224.65v-4.5M216.51 10.75v4.5M230.67 224.65v-4.5M230.67 10.75v4.5M241.66 224.65v-4.5M241.66 10.75v4.5M250.64 224.65v-4.5M250.64 10.75v4.5M258.23 224.65v-4.5M258.23 10.75v4.5M264.81 224.65v-4.5M264.81 10.75v4.5M270.61 224.65v-4.5M270.61 10.75v4.5M275.8 224.65v-7.9M275.8 10.75v7.9M309.94 224.65v-4.5M309.94 10.75v4.5M329.91 224.65v-4.5M329.91 10.75v4.5M344.07 224.65v-4.5M344.07 10.75v4.5M355.06 224.65v-4.5M355.06 10.75v4.5M364.04 224.65v-4.5M364.04 10.75v4.5M371.63 224.65v-4.5M371.63 10.75v4.5M378.21 224.65v-4.5M378.21 10.75v4.5M384.01 224.65v-4.5M384.01 10.75v4.5M49 171.18h7.9M389.2 171.18h-7.9M49 117.7h7.9M389.2 117.7h-7.9M49 64.22h7.9M389.2 64.22h-7.9M49 213.96h4.5M389.2 213.96h-4.5M49 203.26h4.5M389.2 203.26h-4.5M49 192.56h4.5M389.2 192.56h-4.5M49 181.87h4.5M389.2 181.87h-4.5M49 160.48h4.5M389.2 160.48h-4.5M49 149.79h4.5M389.2 149.79h-4.5M49 139.09h4.5M389.2 139.09h-4.5M49 128.39h4.5M389.2 128.39h-4.5M49 107h4.5M389.2 107h-4.5M49 96.31h4.5M389.2 96.31h-4.5M49 85.61h4.5M389.2 85.61h-4.5M49 74.92h4.5M389.2 74.92h-4.5M49 53.53h4.5M389.2 53.53h-4.5M49 42.84h4.5M389.2 42.84h-4.5M49 32.14h4.5M389.2 32.14h-4.5M49 21.45h4.5M389.2 21.45h-4.5" fill="none" stroke="#000" stroke-width="1.6"/>
<text class="sa" x="55.9" y="244.15" font-family='"Liberation Sans", sans-serif' font-size="17.2" text-anchor="end">10</text>
<text class="sa" x="55.9" y="235.55" font-family='"Liberation Sans", sans-serif' font-size="12.3" text-anchor="start">5</text>
<text class="sa" x="169.3" y="244.15" font-family='"Liberation Sans", sans-serif' font-size="17.2" text-anchor="end">10</text>
<text class="sa" x="169.3" y="235.55" font-family='"Liberation Sans", sans-serif' font-size="12.3" text-anchor="start">6</text>
<text class="sa" x="282.7" y="244.15" font-family='"Liberation Sans", sans-serif' font-size="17.2" text-anchor="end">10</text>
<text class="sa" x="282.7" y="235.55" font-family='"Liberation Sans", sans-serif' font-size="12.3" text-anchor="start">7</text>
<text class="sa" x="396.1" y="244.15" font-family='"Liberation Sans", sans-serif' font-size="17.2" text-anchor="end">10</text>
<text class="sa" x="396.1" y="235.55" font-family='"Liberation Sans", sans-serif' font-size="12.3" text-anchor="start">8</text>
<text class="se" x="199.5" y="275.2" font-family='"Liberation Serif", serif' font-weight="bold" font-size="17.8" text-anchor="middle" textLength="39.2" lengthAdjust="spacingAndGlyphs">Time</text>
<text class="se" x="242.55" y="275.2" font-family='"Liberation Serif", serif' font-weight="bold" font-size="17.8" text-anchor="middle" textLength="30.1" lengthAdjust="spacingAndGlyphs">(yr)</text>
<text class="sa" transform="translate(39 224.65) rotate(-90)" font-family='"Liberation Sans", sans-serif' font-size="17.2" text-anchor="middle">0</text>
<text class="sa" transform="translate(39 171.18) rotate(-90)" font-family='"Liberation Sans", sans-serif' font-size="17.2" text-anchor="middle">10</text>
<text class="sa" transform="translate(39 117.7) rotate(-90)" font-family='"Liberation Sans", sans-serif' font-size="17.2" text-anchor="middle">20</text>
<text class="sa" transform="translate(39 64.22) rotate(-90)" font-family='"Liberation Sans", sans-serif' font-size="17.2" text-anchor="middle">30</text>
<text class="sa" transform="translate(39 10.75) rotate(-90)" font-family='"Liberation Sans", sans-serif' font-size="17.2" text-anchor="middle">40</text>
<text class="se" transform="translate(15.5 158.25) rotate(-90)" font-family='"Liberation Serif", serif' font-weight="bold" font-size="17.8" text-anchor="middle" textLength="89.1" lengthAdjust="spacingAndGlyphs">Semimajor</text>
<text class="se" transform="translate(15.5 90) rotate(-90)" font-family='"Liberation Serif", serif' font-weight="bold" font-size="17.8" text-anchor="middle" textLength="32.4" lengthAdjust="spacingAndGlyphs">axis</text>
<text class="se" transform="translate(15.5 48.75) rotate(-90)" font-family='"Liberation Serif", serif' font-weight="bold" font-size="17.8" text-anchor="middle" textLength="35.1" lengthAdjust="spacingAndGlyphs">(AU)</text>
<text class="se" x="349.9" y="38.1" font-family='"Liberation Serif", serif' font-weight="bold" font-size="18.2" text-anchor="middle" textLength="22.6" lengthAdjust="spacingAndGlyphs">(a)</text>
<path d="M474.2 126.42H814.5" stroke="#111" stroke-width="0.78" stroke-dasharray="6.2 5.27" stroke-dashoffset="0.27" fill="none"/>
<path d="M474.2 218.34 L508.34 216.95 L528.31 216.52 L542.47 217.38 L553.46 219.3 L562.44 215.45 L570.03 217.59 L576.61 219.94 L582.41 216.09 L587.6 218.23 L592.29 218.66 L596.58 217.81 L600.52 221.23 L604.17 218.23 L607.57 218.66 L610.75 219.09 L613.73 219.52 L616.55 220.37 L619.21 213.96 L621.74 223.79 L624.22 222.05 L627.83 219.4 L631.45 216.99 L635.06 216.02 L637.47 218.92 L638.67 214.1 L641.57 220.12 L643.01 212.89 L645.42 220.84 L648.31 220.12 L650.72 212.89 L652.65 215.3 L654.34 211.2 L656.02 214.1 L657.47 204.94 L659.88 214.1 L660 213.72 L661.42 203.81 L662.83 183.7 L664.25 208.05 L665.95 187.52 L667.79 198.14 L669.63 200.97 L671.04 183.7 L672.46 192.48 L673.88 191.77 L675.58 195.31 L676.99 203.1 L678.41 184.69 L679.82 196.73 L680.96 206.64 L682.65 187.95 L684.07 196.73 L685.2 203.81 L686.19 192.48 L687.19 210.18 L688.32 185.4 L690.02 195.31 L691.43 203.81 L692.85 180.44 L693.98 214.42 L695.4 196.73 L697.1 196.73 L698.23 209.47 L699.65 199.56 L701.06 206.64 L702.05 180.87 L703.89 219.38 L705.31 203.81 L706.73 186.81 L708.14 206.64 L709.56 189.65 L710.69 196.73 L711.68 186.11 L713.52 208.05 L714.94 196.73 L715.93 187.52 L717.77 217.96 L718.48 192.48 L719.1 173.72 L720.8 160.98 L721.86 192.84 L722.92 173.72 L723.98 159.92 L725.47 194.96 L726.75 151.42 L728.23 200.27 L729.29 154.6 L730.78 190.71 L731.84 155.67 L733.12 199.21 L734.6 165.23 L736.3 184.34 L737.79 173.72 L739.28 203.46 L740.13 141.86 L741.19 173.72 L742.46 210.89 L744.16 157.79 L746.29 186.47 L748.41 167.35 L750.54 163.1 L753.08 180.09 L755.85 193.9 L758.39 173.72 L761.16 149.29 L762.64 180.09 L763.92 213.02 L764.98 173.72 L765.83 147.81 L767.53 167.35 L769.01 180.09 L770.5 160.98 L771.56 147.81 L772.41 211.95" fill="none" stroke="#f00" stroke-width="1.6" stroke-linejoin="round" stroke-linecap="butt" />
<path d="M772.41 158.58 L773.41 159.08 L774.41 159.58 L775.41 160.01 L776.41 160.34 L777.41 160.67 L778.41 161.01 L779.41 161.34 L780.41 161.67 L781.41 161.78 L782.41 159.28 L783.41 156.78 L784.41 152.61 L785.41 148.36 L786.41 144.11 L787.41 139.86 L788.41 137.34 L789.41 135.54 L790.41 136.43 L791.41 139.23 L792.41 140.4 L793.41 139.65 L794.41 138.9 L795.41 138.15 L796.41 137.48 L797.41 137.15 L798.41 136.82 L799.41 136.49 L800.41 136.24 L801.41 135.99 L802.41 135.74 L803.41 135.49 L804.41 136.72 L805.41 138.39 L806.41 140.06 L807.41 140.54 L808.41 140.21 L809.41 139.88 L810.41 140.08 L811.41 141.08 L812.41 142.08 L813.41 143.08 L814.1 143.77 L814.1 186.68 L813.41 187.37 L812.41 188.37 L811.41 189.37 L810.41 190.37 L809.41 191.37 L808.41 192.55 L807.41 193.88 L806.41 195.21 L805.41 195.66 L804.41 194.46 L803.41 193.26 L802.41 192.06 L801.41 190.86 L800.41 189.73 L799.41 190.23 L798.41 190.73 L797.41 191.23 L796.41 191.73 L795.41 191.83 L794.41 191.83 L793.41 191.83 L792.41 191.83 L791.41 191.83 L790.41 191.83 L789.41 194.06 L788.41 199.39 L787.41 204.73 L786.41 208.36 L785.41 206.36 L784.41 204.36 L783.41 202.43 L782.41 201.93 L781.41 201.43 L780.41 200.93 L779.41 200.43 L778.41 199.13 L777.41 197.63 L776.41 196.13 L775.41 194.63 L774.41 195.06 L773.41 197.06 L772.41 199.06Z" fill="#f00"/>
<path d="M772.36 151.72 L772.96 205.91 L773.54 156.36 L774 196.37 L774.56 150.36 L775.15 203.46 L775.67 157.46 L776.31 197.01 L776.78 152.9 L777.33 204.2 L777.86 154.62 L778.44 203.61 L779.07 153.93 L779.48 209.83 L780.06 158.2 L780.75 202.32 L781.12 152.48 L781.79 200.82 L782.39 151.53 L782.91 207.74 L783.41 147.17 L783.88 211.95 L784.56 146.7 L785.12 206.14 L785.71 146.91 L786.15 218.33 L786.81 138.29 L787.2 208.01 L787.89 129.12 L788.42 200.14 L788.95 133.75 L789.55 201.33 L790.11 125.29 L790.49 199.98 L791.16 130.47 L791.68 192.2 L792.12 131.24 L792.74 191.38 L793.23 132.42 L793.94 196.4 L794.46 136.45 L795.02 196.47 L795.61 134.5 L796.01 201.33 L796.56 128.05 L797.25 191.47 L797.78 136.79 L798.26 197.12 L798.75 137.2 L799.35 198.14 L799.84 126.99 L800.43 199.21 L800.95 133.76 L801.58 196.13 L802.08 131.49 L802.62 195.27 L803.19 125.93 L803.86 198.87 L804.33 134.49 L804.93 194.91 L805.43 134.34 L805.89 205.58 L806.42 131.24 L807.06 195.18 L807.65 132.71 L808.13 200.45 L808.73 135.88 L809.18 201.33 L809.73 130.18 L810.3 189.49 L810.94 133.41 L811.48 195.44 L812.09 138.1 L812.52 190.49 L813.03 141.03 L813.62 186.29" fill="none" stroke="#f00" stroke-width="1.3" stroke-linejoin="round" stroke-linecap="butt" stroke-linejoin="miter"/>
<path d="M719.6 169 L720.6 169 L721.6 169 L722.6 169 L723.6 169 L724.6 169 L725.6 169 L726.6 169 L727.6 169 L728.6 169 L729.6 169 L730.6 169 L731.6 169 L732.6 169 L733.6 169 L734.6 169 L735.6 169 L736.6 169 L737.6 169 L738.6 169 L739.6 169 L740.6 169 L741.5 169 L741.5 186 L740.6 186 L739.6 186 L738.6 186 L737.6 186 L736.6 186 L735.6 186 L734.6 186 L733.6 186 L732.6 186 L731.6 186 L730.6 186 L729.6 186 L728.6 186 L727.6 186 L726.6 186 L725.6 186 L724.6 186 L723.6 186 L722.6 186 L721.6 186 L720.6 186 L719.6 186Z" fill="#f00"/>
<path d="M719.63 164.23 L720.34 193.64 L721.05 157.77 L721.64 187.24 L722.38 163.13 L723.15 198.17 L723.77 162.19 L724.52 188.08 L725.13 153.46 L725.87 191.07 L726.55 159.5 L727.34 185.87 L728.03 164.92 L728.72 196.95 L729.46 155.52 L730.05 185.82 L730.8 159.94 L731.56 185.06 L732.19 160.57 L732.83 191.67 L733.53 162.39 L734.39 193.4 L734.95 167.16 L735.78 192.21 L736.38 167.89 L737.03 192.51 L737.85 169.19 L738.52 192.64 L739.12 163.93 L739.9 190.84 L740.53 164.63 L741.3 185.82" fill="none" stroke="#f00" stroke-width="1.3" stroke-linejoin="round" stroke-linecap="butt" stroke-linejoin="miter"/>
<path d="M742 166.73 L743.1 186.48 L744.2 182.51 L745.3 164.27 L746.4 177.26 L747.5 168.61 L748.6 185.12 L749.7 184.02 L750.8 168.48 L751.9 176.19 L753 172.78 L754.1 166.11 L755.2 169.99 L756.3 168.57 L757.4 170.45 L758.5 185.01 L759.6 178.08 L760.7 156.12 L761.8 165.69 L762.9 185.28 L764 178.44 L765.1 173.16 L766.2 174.3 L767.3 175.39 L768.4 157.25 L769.5 165.32 L770.6 160.45 L771.7 157.02" fill="none" stroke="#f00" stroke-width="1.3" stroke-linejoin="round" stroke-linecap="butt" />
<path d="M474.2 224.65 L474.2 224.65" fill="none" stroke="#f00" stroke-width="1.5" stroke-linejoin="round" stroke-linecap="butt" />
<rect x="474.2" y="10.75" width="340.3" height="213.9" fill="none" stroke="#000" stroke-width="1.8"/>
<path d="M508.34 224.65v-4.5M508.34 10.75v4.5M528.31 224.65v-4.5M528.31 10.75v4.5M542.47 224.65v-4.5M542.47 10.75v4.5M553.46 224.65v-4.5M553.46 10.75v4.5M562.44 224.65v-4.5M562.44 10.75v4.5M570.03 224.65v-4.5M570.03 10.75v4.5M576.61 224.65v-4.5M576.61 10.75v4.5M582.41 224.65v-4.5M582.41 10.75v4.5M587.6 224.65v-7.9M587.6 10.75v7.9M621.74 224.65v-4.5M621.74 10.75v4.5M641.71 224.65v-4.5M641.71 10.75v4.5M655.87 224.65v-4.5M655.87 10.75v4.5M666.86 224.65v-4.5M666.86 10.75v4.5M675.84 224.65v-4.5M675.84 10.75v4.5M683.43 224.65v-4.5M683.43 10.75v4.5M690.01 224.65v-4.5M690.01 10.75v4.5M695.81 224.65v-4.5M695.81 10.75v4.5M701 224.65v-7.9M701 10.75v7.9M735.14 224.65v-4.5M735.14 10.75v4.5M755.11 224.65v-4.5M755.11 10.75v4.5M769.27 224.65v-4.5M769.27 10.75v4.5M780.26 224.65v-4.5M780.26 10.75v4.5M789.24 224.65v-4.5M789.24 10.75v4.5M796.83 224.65v-4.5M796.83 10.75v4.5M803.41 224.65v-4.5M803.41 10.75v4.5M809.21 224.65v-4.5M809.21 10.75v4.5M474.2 117.7h7.9M814.5 117.7h-7.9M474.2 203.26h4.5M814.5 203.26h-4.5M474.2 181.87h4.5M814.5 181.87h-4.5M474.2 160.48h4.5M814.5 160.48h-4.5M474.2 139.09h4.5M814.5 139.09h-4.5M474.2 96.31h4.5M814.5 96.31h-4.5M474.2 74.92h4.5M814.5 74.92h-4.5M474.2 53.53h4.5M814.5 53.53h-4.5M474.2 32.14h4.5M814.5 32.14h-4.5" fill="none" stroke="#000" stroke-width="1.6"/>
<text class="sa" x="481.1" y="244.15" font-family='"Liberation Sans", sans-serif' font-size="17.2" text-anchor="end">10</text>
<text class="sa" x="481.1" y="235.55" font-family='"Liberation Sans", sans-serif' font-size="12.3" text-anchor="start">5</text>
<text class="sa" x="594.5" y="244.15" font-family='"Liberation Sans", sans-serif' font-size="17.2" text-anchor="end">10</text>
<text class="sa" x="594.5" y="235.55" font-family='"Liberation Sans", sans-serif' font-size="12.3" text-anchor="start">6</text>
<text class="sa" x="707.9" y="244.15" font-family='"Liberation Sans", sans-serif' font-size="17.2" text-anchor="end">10</text>
<text class="sa" x="707.9" y="235.55" font-family='"Liberation Sans", sans-serif' font-size="12.3" text-anchor="start">7</text>
<text class="sa" x="821.3" y="244.15" font-family='"Liberation Sans", sans-serif' font-size="17.2" text-anchor="end">10</text>
<text class="sa" x="821.3" y="235.55" font-family='"Liberation Sans", sans-serif' font-size="12.3" text-anchor="start">8</text>
<text class="se" x="624.75" y="275.2" font-family='"Liberation Serif", serif' font-weight="bold" font-size="17.8" text-anchor="middle" textLength="39.2" lengthAdjust="spacingAndGlyphs">Time</text>
<text class="se" x="667.8" y="275.2" font-family='"Liberation Serif", serif' font-weight="bold" font-size="17.8" text-anchor="middle" textLength="30.1" lengthAdjust="spacingAndGlyphs">(yr)</text>
<text class="sa" transform="translate(464.2 224.65) rotate(-90)" font-family='"Liberation Sans", sans-serif' font-size="17.2" text-anchor="middle">0</text>
<text class="sa" transform="translate(464.2 117.7) rotate(-90)" font-family='"Liberation Sans", sans-serif' font-size="17.2" text-anchor="middle">0.05</text>
<text class="sa" transform="translate(464.2 10.75) rotate(-90)" font-family='"Liberation Sans", sans-serif' font-size="17.2" text-anchor="middle">0.1</text>
<text class="se" transform="translate(440.7 117.1) rotate(-90)" font-family='"Liberation Serif", serif' font-weight="bold" font-size="17.8" text-anchor="middle" textLength="100.2" lengthAdjust="spacingAndGlyphs">Eccentricity</text>
<text class="se" x="775.4" y="38.1" font-family='"Liberation Serif", serif' font-weight="bold" font-size="18.2" text-anchor="middle" textLength="23" lengthAdjust="spacingAndGlyphs">(b)</text>
<rect x="49" y="383.88" width="340.2" height="25.16" fill="#c9c9c9"/>
<path d="M49 359.5H389.2" stroke="#111" stroke-width="0.78" stroke-dasharray="6.2 5.27" stroke-dashoffset="0.62" fill="none"/>
<path d="M49 471.3 L80 471 L108.7 471.3 L118 472 L128.5 470.7 L137.4 472 L144.7 469.9 L151.7 471.6 L157 470.4 L162.9 469.1 L172.4 468.8 L176.5 469.6 L180.4 471.4 L183 470 L185.2 468.7 L187 468.09 L188.7 468.24 L190.4 468.69 L192.1 469.07 L193.8 467.71 L195.5 466.83 L197.2 468.04 L198.9 466.83 L200.6 468.73 L202.3 467.34 L204 468.01 L205.7 467.12 L207.4 466.68 L209.1 465.91 L210.8 466.6 L212.5 465.58 L214.2 466.8 L215.9 467.15 L217.6 466.15 L219.3 465.37 L221 465.24 L222.7 466.78 L224.4 466.1 L226.1 465.87 L227.8 465.09 L229.5 463.87 L231.2 465.12 L232.9 465.45 L234.6 462.9 L236.3 462.28 L238 461.83 L239.7 462.24 L240.7 460.74 L241.7 460.65 L242.7 458.33 L243.7 460.61 L244.7 460.51 L245.7 460.12 L246.7 458.3 L247.7 459.99 L248.7 457.52 L249.7 459.46 L250.7 458.33 L251.7 459.62 L252.7 459.21 L253.7 457.38 L254.7 456.88 L255.7 459.07 L256.7 458.64 L257.7 459.43 L258.7 458.91 L259.7 458.24 L260.7 457.73 L261.7 457.49 L262.7 458.07 L263.7 458.57 L264.7 457.26 L265.7 457.81 L266.7 457.73 L267.7 455.71 L268.7 456.8 L269.7 458.48 L270.7 455.47 L271.7 455.34 L272.7 457.05 L273.7 455.12 L274.7 457.76 L275.7 455.12 L276.7 457.38 L277.7 455.11 L278.7 455.6 L279.7 454.62 L280.7 456.61 L281.7 455.4 L282.7 454.39 L283.7 456.89 L284.7 456.62 L285.7 455.34 L286.7 456.61 L287.7 456.78 L288.7 456.82 L289.7 455.66 L290.7 454.58 L291.7 455.09 L292.7 454.55 L293.7 456.34 L294.9 454.34 L295.4 421.62 L295.6 381.99" fill="none" stroke="#000" stroke-width="1.9" stroke-linejoin="round" stroke-linecap="butt" />
<path d="M295.4 380.42 L296.1 379.82 L296.8 379.88 L297.5 379.41 L298.2 379.14 L298.9 379 L299.6 378.05 L300.3 378.04 L301 378.12 L301.7 377.78 L302.4 378.07 L303.1 377.94 L303.8 377.61 L304.5 377.51 L305.2 377.34 L305.9 377.54 L306.6 377.78 L307.3 377.73 L308 376.85 L308.7 377.17 L309.4 377.16 L310.1 377.2 L310.8 376.72 L311.5 376.76 L312.2 376.76 L312.9 376.68 L313.6 376.29 L314.3 376.26 L315 375.84 L315.7 376.53 L316.4 375.7 L317.1 375.77 L317.8 375.58 L318.5 375.93 L319.2 375.55 L319.9 376.05 L320.6 375.36 L321.3 375.87 L322 375.4 L322.7 375.42 L323.4 375.62 L324.1 375.37 L324.8 374.74 L325.5 375.01 L326.2 374.93 L326.9 375.12 L327.6 374.9 L328.3 375.08 L329 374.8 L329.7 374.59 L330.4 374.35 L331.1 375.04 L331.8 374.89 L332.5 374.58 L333.2 374.68 L333.9 374.08 L334.6 374.71 L335.3 374.17 L336 373.7 L336.7 373.92 L337.4 373.93 L338.1 374.25 L338.8 373.56 L339.5 373.09 L340.2 373.83 L340.9 373.01 L341.6 372.91 L342.3 373.88 L343 373.02 L343.7 373.61 L344.4 373.78 L345.1 373.42 L345.8 373.2 L346.5 373.54 L347.2 373.19 L347.9 372.98 L348.6 373.58 L349.3 373.46 L350 373.56 L350.7 372.87 L351.4 372.86 L352.1 372.93 L352.8 373.02 L353.5 372.65 L354.2 372.6 L354.9 372.36 L355.6 372.68 L356.3 372.22 L357 372.68 L357.7 372.55 L358.4 371.98 L359.1 373.11 L359.8 372.93 L360.5 372.26 L361.2 371.75 L361.9 371.75 L362.6 372.23 L363.3 372.83 L364 372.3 L364.7 371.61 L365.4 372.71 L366.1 371.7 L366.8 371.89 L367.5 371.6 L368.2 372.18 L368.9 371.41 L369.6 371.96 L370.3 371.25 L371 371.78 L371.7 371.34 L372.4 371.68 L373.1 372.26 L373.8 371.42 L374.5 371.17 L375.2 372.32 L375.9 371.85 L376.6 371.91 L377.3 371.05 L378 371.9 L378.7 371.92 L379.4 371.98 L380.1 371.25 L380.8 371.09 L381.5 371.12 L382.2 370.61 L382.9 371.56 L383.6 370.87 L384.3 371.56 L385 371.11 L385.7 371.41 L386.4 370.42 L387.1 370.77 L387.8 371.31 L388.5 370.38 L389.2 371.02 L389.2 375.5 L388.5 375.13 L387.8 375.58 L387.1 375.45 L386.4 375.31 L385.7 375.27 L385 375.48 L384.3 376.41 L383.6 376.51 L382.9 376.43 L382.2 376.18 L381.5 376.35 L380.8 375.49 L380.1 376.61 L379.4 375.68 L378.7 376.79 L378 376.12 L377.3 376.17 L376.6 375.73 L375.9 375.53 L375.2 375.63 L374.5 375.56 L373.8 376.37 L373.1 376.45 L372.4 375.9 L371.7 376.93 L371 375.65 L370.3 376.43 L369.6 377.06 L368.9 376.02 L368.2 376.82 L367.5 377.08 L366.8 375.89 L366.1 376.04 L365.4 375.85 L364.7 376.38 L364 376.32 L363.3 377.15 L362.6 377 L361.9 377.25 L361.2 376.4 L360.5 376.5 L359.8 376.5 L359.1 376.42 L358.4 376.13 L357.7 376.35 L357 376.9 L356.3 376.89 L355.6 376.37 L354.9 376.18 L354.2 377.22 L353.5 376.64 L352.8 377.01 L352.1 376.49 L351.4 376.65 L350.7 376.97 L350 377.4 L349.3 377.34 L348.6 376.97 L347.9 377.38 L347.2 376.79 L346.5 377.49 L345.8 376.83 L345.1 377.27 L344.4 377.36 L343.7 377.5 L343 377.18 L342.3 377.23 L341.6 377.15 L340.9 376.92 L340.2 377.61 L339.5 377.58 L338.8 377.62 L338.1 377.94 L337.4 377.34 L336.7 378.17 L336 378.15 L335.3 378.14 L334.6 377.63 L333.9 378 L333.2 377.49 L332.5 378.49 L331.8 378.06 L331.1 377.58 L330.4 378.19 L329.7 378.53 L329 378.76 L328.3 378.01 L327.6 377.89 L326.9 378.01 L326.2 378.1 L325.5 378.08 L324.8 379.11 L324.1 378.26 L323.4 378.27 L322.7 378.5 L322 378.72 L321.3 379.26 L320.6 378.65 L319.9 379.11 L319.2 379.39 L318.5 379.52 L317.8 379.14 L317.1 379.71 L316.4 378.94 L315.7 379.23 L315 379.29 L314.3 379.39 L313.6 379.7 L312.9 379.21 L312.2 379.31 L311.5 379.66 L310.8 379.34 L310.1 379.98 L309.4 379.5 L308.7 379.61 L308 380.52 L307.3 380 L306.6 380.05 L305.9 379.89 L305.2 380.07 L304.5 380.07 L303.8 380.66 L303.1 380.91 L302.4 380.97 L301.7 380.43 L301 380.36 L300.3 380.59 L299.6 381.1 L298.9 381.36 L298.2 381.42 L297.5 381.76 L296.8 382.34 L296.1 382.35 L295.4 382.86Z" fill="#000"/>
<rect x="49" y="295.8" width="340.2" height="213.9" fill="none" stroke="#000" stroke-width="1.8"/>
<path d="M83.14 509.7v-4.5M83.14 295.8v4.5M103.11 509.7v-4.5M103.11 295.8v4.5M117.27 509.7v-4.5M117.27 295.8v4.5M128.26 509.7v-4.5M128.26 295.8v4.5M137.24 509.7v-4.5M137.24 295.8v4.5M144.83 509.7v-4.5M144.83 295.8v4.5M151.41 509.7v-4.5M151.41 295.8v4.5M157.21 509.7v-4.5M157.21 295.8v4.5M162.4 509.7v-7.9M162.4 295.8v7.9M196.54 509.7v-4.5M196.54 295.8v4.5M216.51 509.7v-4.5M216.51 295.8v4.5M230.67 509.7v-4.5M230.67 295.8v4.5M241.66 509.7v-4.5M241.66 295.8v4.5M250.64 509.7v-4.5M250.64 295.8v4.5M258.23 509.7v-4.5M258.23 295.8v4.5M264.81 509.7v-4.5M264.81 295.8v4.5M270.61 509.7v-4.5M270.61 295.8v4.5M275.8 509.7v-7.9M275.8 295.8v7.9M309.94 509.7v-4.5M309.94 295.8v4.5M329.91 509.7v-4.5M329.91 295.8v4.5M344.07 509.7v-4.5M344.07 295.8v4.5M355.06 509.7v-4.5M355.06 295.8v4.5M364.04 509.7v-4.5M364.04 295.8v4.5M371.63 509.7v-4.5M371.63 295.8v4.5M378.21 509.7v-4.5M378.21 295.8v4.5M384.01 509.7v-4.5M384.01 295.8v4.5M49 484.54h7.9M389.2 484.54h-7.9M49 421.62h7.9M389.2 421.62h-7.9M49 358.71h7.9M389.2 358.71h-7.9M49 497.12h4.5M389.2 497.12h-4.5M49 471.95h4.5M389.2 471.95h-4.5M49 459.37h4.5M389.2 459.37h-4.5M49 446.79h4.5M389.2 446.79h-4.5M49 434.21h4.5M389.2 434.21h-4.5M49 409.04h4.5M389.2 409.04h-4.5M49 396.46h4.5M389.2 396.46h-4.5M49 383.88h4.5M389.2 383.88h-4.5M49 371.29h4.5M389.2 371.29h-4.5M49 346.13h4.5M389.2 346.13h-4.5M49 333.55h4.5M389.2 333.55h-4.5M49 320.96h4.5M389.2 320.96h-4.5M49 308.38h4.5M389.2 308.38h-4.5" fill="none" stroke="#000" stroke-width="1.6"/>
<text class="sa" x="55.9" y="529.2" font-family='"Liberation Sans", sans-serif' font-size="17.2" text-anchor="end">10</text>
<text class="sa" x="55.9" y="520.6" font-family='"Liberation Sans", sans-serif' font-size="12.3" text-anchor="start">5</text>
<text class="sa" x="169.3" y="529.2" font-family='"Liberation Sans", sans-serif' font-size="17.2" text-anchor="end">10</text>
<text class="sa" x="169.3" y="520.6" font-family='"Liberation Sans", sans-serif' font-size="12.3" text-anchor="start">6</text>
<text class="sa" x="282.7" y="529.2" font-family='"Liberation Sans", sans-serif' font-size="17.2" text-anchor="end">10</text>
<text class="sa" x="282.7" y="520.6" font-family='"Liberation Sans", sans-serif' font-size="12.3" text-anchor="start">7</text>
<text class="sa" x="396.1" y="529.2" font-family='"Liberation Sans", sans-serif' font-size="17.2" text-anchor="end">10</text>
<text class="sa" x="396.1" y="520.6" font-family='"Liberation Sans", sans-serif' font-size="12.3" text-anchor="start">8</text>
<text class="se" x="199.5" y="560.25" font-family='"Liberation Serif", serif' font-weight="bold" font-size="17.8" text-anchor="middle" textLength="39.2" lengthAdjust="spacingAndGlyphs">Time</text>
<text class="se" x="242.55" y="560.25" font-family='"Liberation Serif", serif' font-weight="bold" font-size="17.8" text-anchor="middle" textLength="30.1" lengthAdjust="spacingAndGlyphs">(yr)</text>
<text class="sa" transform="translate(39 484.54) rotate(-90)" font-family='"Liberation Sans", sans-serif' font-size="17.2" text-anchor="middle">1.5</text>
<text class="sa" transform="translate(39 421.62) rotate(-90)" font-family='"Liberation Sans", sans-serif' font-size="17.2" text-anchor="middle">2</text>
<text class="sa" transform="translate(39 358.71) rotate(-90)" font-family='"Liberation Sans", sans-serif' font-size="17.2" text-anchor="middle">2.5</text>
<text class="sa" transform="translate(39 295.8) rotate(-90)" font-family='"Liberation Sans", sans-serif' font-size="17.2" text-anchor="middle">3</text>
<text class="se" transform="translate(15.5 427) rotate(-90)" font-family='"Liberation Serif", serif' font-weight="bold" font-size="17.8" text-anchor="middle" textLength="52" lengthAdjust="spacingAndGlyphs">Period</text>
<text class="se" transform="translate(15.5 372.35) rotate(-90)" font-family='"Liberation Serif", serif' font-weight="bold" font-size="17.8" text-anchor="middle" textLength="41.7" lengthAdjust="spacingAndGlyphs">Ratio</text>
<text class="se" x="349.5" y="323.2" font-family='"Liberation Serif", serif' font-weight="bold" font-size="18.2" text-anchor="middle" textLength="21.8" lengthAdjust="spacingAndGlyphs">(c)</text>
<path d="M474.2 430.45H814.5" stroke="#111" stroke-width="0.88" stroke-dasharray="6.2 5.27" stroke-dashoffset="0.34" fill="none"/>
<path d="M474.2 499.71 L508.34 499.22 L528.31 493.02 L542.47 497.94 L553.46 503.5 L562.44 493.76 L570.03 493.23 L576.61 497.72 L582.41 502 L587.6 507.13 L592.29 497.94 L596.58 493.51 L600.52 494.73 L604.17 494.3 L607.57 489.38 L610.75 491.73 L613.73 495.58 L616.55 504.2 L619.21 497.94 L621.74 496.87 L624.14 492.16 L626.43 486.81 L628.62 481.89 L630.72 477.4 L632.73 486.17 L634.66 496.87 L636.52 506.28 L638.31 501.14 L640.04 496.87 L641.71 489.38 L643.32 499 L644.88 493.66 L646.4 485.1 L647.87 477.62 L649.3 492.59 L650 478.23 L651.13 493.81 L652.12 485.31 L653.54 489.56 L654.53 487.43 L655.66 493.81 L656.37 489.56 L657.79 506.55 L659.2 496.64 L660.19 493.81 L661.33 498.05 L662.46 504.42 L664.16 492.39 L665.58 482.48 L666.99 475.4 L668.41 481.06 L669.82 482.48 L670.96 489.56 L671.95 480.35 L673.36 496.64 L674.35 483.89 L675.49 503.72 L676.62 486.73 L677.61 474.69 L679.03 499.47 L680.44 481.06 L681.43 488.14 L682.57 503.72 L683.7 496.64 L684.69 485.31 L686.11 502.3 L687.52 482.48 L688.51 506.55 L689.65 486.73 L690.78 475.4 L691.91 496.64 L692.76 478.23 L693.89 505.13 L695.03 482.48 L696.44 468.32 L697.43 489.56 L698.42 483.89 L699.56 507.96 L700.69 489.56 L701.68 482.48 L703.1 470.44 L704.09 486.73 L704.94 475.4 L705.93 466.19 L707.06 481.06 L708.05 506.55 L708.9 473.98 L710.04 502.3 L711.17 483.89 L711.88 506.55 L713.01 475.4 L714 493.81 L715.13 470.44 L715.98 482.48 L716.83 468.32 L717.68 486.73 L718.53 467.61 L719.38 482.48 L720 509.7 L720.3 312.91" fill="none" stroke="#f00" stroke-width="1.7" stroke-linejoin="round" stroke-linecap="butt" />
<path d="M720.3 318 L721.3 319.82 L722.3 321.64 L723.3 326.34 L724.3 331.77 L725.3 337.2 L726.3 341.09 L727.3 341.37 L728.3 341.66 L729.3 341.94 L730.3 342.23 L731.3 342.51 L732.3 342.8 L733.3 343.09 L734.3 343.37 L735.3 343.66 L736.3 343.94 L737.3 344.23 L738.3 344.51 L739.3 344.8 L740.3 344.98 L741.3 344.93 L742.3 344.88 L743.3 344.82 L744.3 344.77 L745.3 344.72 L746.3 344.66 L747.3 344.61 L748.3 344.55 L749.3 344.5 L750.3 344.45 L751.3 344.39 L752.3 344.34 L753.3 344.29 L754.3 344.23 L755.3 344.18 L756.3 344.12 L757.3 344.07 L758.3 344.02 L759.3 343.96 L760.3 343.91 L761.3 343.86 L762.3 343.8 L763.3 343.75 L764.3 343.7 L765.3 343.64 L766.3 343.59 L767.3 343.53 L768.3 343.48 L769.3 343.43 L770.3 343.37 L771.3 343.32 L772.3 343.27 L773.3 343.21 L774.3 343.16 L775.3 343.1 L776.3 343.05 L777.3 343 L778.3 342.94 L779.3 342.89 L780.3 342.84 L781.3 342.78 L782.3 342.73 L783.3 342.68 L784.3 342.62 L785.3 342.57 L786.3 342.51 L787.3 342.46 L788.3 342.41 L789.3 342.35 L790.3 342.3 L791.3 342.25 L792.3 342.19 L793.3 342.14 L794.3 342.08 L795.3 342.03 L796.3 341.98 L797.3 341.92 L798.3 341.87 L799.3 341.82 L800.3 341.76 L801.3 341.71 L802.3 341.66 L803.3 341.6 L804.3 341.55 L805.3 341.49 L806.3 341.44 L807.3 341.39 L808.3 341.33 L809.3 341.28 L810.3 341.23 L811.3 341.17 L812.3 341.12 L813.3 341.06 L814.1 341.02 L814.1 412.49 L813.3 412.46 L812.3 412.43 L811.3 412.4 L810.3 412.36 L809.3 412.33 L808.3 412.3 L807.3 412.27 L806.3 412.24 L805.3 412.2 L804.3 412.17 L803.3 412.14 L802.3 412.11 L801.3 412.07 L800.3 412.04 L799.3 412.01 L798.3 411.98 L797.3 411.95 L796.3 411.91 L795.3 411.88 L794.3 411.85 L793.3 411.82 L792.3 411.78 L791.3 411.75 L790.3 411.72 L789.3 411.69 L788.3 411.65 L787.3 411.62 L786.3 411.59 L785.3 411.56 L784.3 411.53 L783.3 411.49 L782.3 411.46 L781.3 411.43 L780.3 411.4 L779.3 411.36 L778.3 411.33 L777.3 411.3 L776.3 411.27 L775.3 411.24 L774.3 411.2 L773.3 411.17 L772.3 411.14 L771.3 411.11 L770.3 411.07 L769.3 411.04 L768.3 411.01 L767.3 410.8 L766.3 410.52 L765.3 410.23 L764.3 409.95 L763.3 409.66 L762.3 409.38 L761.3 409.09 L760.3 408.81 L759.3 408.53 L758.3 408.24 L757.3 407.96 L756.3 407.67 L755.3 407.39 L754.3 407.1 L753.3 406.82 L752.3 406.54 L751.3 406.25 L750.3 405.97 L749.3 405.68 L748.3 405.4 L747.3 405.11 L746.3 404.55 L745.3 403.8 L744.3 403.06 L743.3 402.31 L742.3 401.56 L741.3 400.81 L740.3 400.07 L739.3 399.32 L738.3 398.57 L737.3 397.82 L736.3 397.07 L735.3 395.64 L734.3 394.13 L733.3 392.62 L732.3 391.11 L731.3 389.6 L730.3 388.09 L729.3 386.58 L728.3 385.08 L727.3 383.57 L726.3 382.06 L725.3 380.66 L724.3 379.53 L723.3 378.4 L722.3 377.26 L721.3 376.13 L720.3 375Z" fill="#f00"/>
<path d="M720.27 311.46 L720.8 377.3 L721.43 316.89 L722.13 375.93 L722.68 312.01 L723.12 377.3 L723.73 329.4 L724.36 378.51 L725.03 322.43 L725.51 380.7 L726.19 332.35 L726.62 388.28 L727.29 316.95 L727.74 399.32 L728.38 321.52 L729.08 408.85 L729.48 340.6 L730.13 396.51 L730.71 330.67 L731.23 389.84 L731.91 340.75 L732.39 385.76 L733.16 343.81 L733.69 382.79 L734.32 341.64 L734.81 391.09 L735.42 344.37 L735.98 395.59 L736.52 341.15 L737.14 402 L737.65 333.41 L738.35 397.89 L738.85 339.2 L739.54 398.44 L740.05 336.15 L740.52 399.25 L741.25 345.78 L741.86 401.88 L742.35 337.96 L742.95 401.18 L743.54 335.61 L744.08 405.02 L744.75 329.29 L745.27 414.34 L745.83 340.01 L746.46 409.16 L746.94 339.1 L747.52 405.48 L748.16 339.59 L748.65 405.1 L749.39 342.79 L749.85 405.26 L750.45 337.43 L751.06 404.74 L751.59 327.92 L752.19 407.97 L752.7 343.6 L753.44 409.12 L754.01 340.57 L754.53 409.38 L755.05 342.78 L755.77 429.43 L756.18 336.15 L756.79 412.88 L757.35 337.71 L758.1 411.99 L758.53 336.92 L759.07 410.23 L759.83 337.54 L760.39 411.08 L760.99 337.24 L761.5 408.51 L762.16 327.92 L762.61 423.94 L763.25 331.07 L763.73 409.94 L764.32 336.22 L764.86 417.21 L765.55 330.79 L766.2 412.89 L766.62 327.34 L767.19 415.71 L767.95 339.4 L768.36 413.7 L769.12 322.58 L769.59 414.9 L770.11 318.32 L770.75 421.65 L771.26 327.14 L771.82 417.78 L772.44 329.32 L773.18 421.09 L773.64 337.72 L774.31 422.88 L774.8 331.49 L775.32 437.66 L775.88 326.55 L776.47 414.86 L777.19 333.9 L777.73 424.7 L778.22 332.23 L778.95 415.65 L779.4 341.13 L780.04 421.2 L780.64 333.01 L781.26 417.23 L781.81 319.69 L782.29 415.14 L783.01 341.85 L783.44 415.51 L784.18 340.07 L784.76 423.57 L785.26 324.1 L785.9 441.78 L786.37 322.43 L787.06 431.66 L787.55 339.68 L788.25 422.41 L788.65 327.43 L789.33 422.57 L789.85 338.83 L790.42 419.23 L791.09 333.56 L791.63 414.77 L792.14 338.41 L792.79 412.6 L793.45 312.83 L793.87 414.16 L794.55 324.96 L795.11 415.71 L795.77 329.92 L796.33 416.02 L796.83 334.82 L797.35 418.32 L798.01 333.41 L798.55 418.93 L799.2 338.66 L799.78 428.99 L800.4 340.23 L800.9 434.92 L801.58 341.64 L802.09 426.33 L802.65 336.54 L803.16 439.03 L803.84 330.67 L804.33 412.86 L804.97 337.22 L805.54 439.03 L806.17 325.18 L806.75 421.41 L807.39 342.16 L807.84 412.58 L808.44 340.59 L809 426.69 L809.63 318.32 L810.17 414.96 L810.7 336.26 L811.36 419.89 L811.9 322.77 L812.5 412.78 L813.07 322.43 L813.66 423.94" fill="none" stroke="#f00" stroke-width="1.4" stroke-linejoin="round" stroke-linecap="butt" stroke-linejoin="miter"/>
<path d="M474.2 509.7 L474.2 509.7" fill="none" stroke="#f00" stroke-width="1.5" stroke-linejoin="round" stroke-linecap="butt" />
<rect x="474.2" y="295.8" width="340.3" height="213.9" fill="none" stroke="#000" stroke-width="1.8"/>
<path d="M508.34 509.7v-4.5M508.34 295.8v4.5M528.31 509.7v-4.5M528.31 295.8v4.5M542.47 509.7v-4.5M542.47 295.8v4.5M553.46 509.7v-4.5M553.46 295.8v4.5M562.44 509.7v-4.5M562.44 295.8v4.5M570.03 509.7v-4.5M570.03 295.8v4.5M576.61 509.7v-4.5M576.61 295.8v4.5M582.41 509.7v-4.5M582.41 295.8v4.5M587.6 509.7v-7.9M587.6 295.8v7.9M621.74 509.7v-4.5M621.74 295.8v4.5M641.71 509.7v-4.5M641.71 295.8v4.5M655.87 509.7v-4.5M655.87 295.8v4.5M666.86 509.7v-4.5M666.86 295.8v4.5M675.84 509.7v-4.5M675.84 295.8v4.5M683.43 509.7v-4.5M683.43 295.8v4.5M690.01 509.7v-4.5M690.01 295.8v4.5M695.81 509.7v-4.5M695.81 295.8v4.5M701 509.7v-7.9M701 295.8v7.9M735.14 509.7v-4.5M735.14 295.8v4.5M755.11 509.7v-4.5M755.11 295.8v4.5M769.27 509.7v-4.5M769.27 295.8v4.5M780.26 509.7v-4.5M780.26 295.8v4.5M789.24 509.7v-4.5M789.24 295.8v4.5M796.83 509.7v-4.5M796.83 295.8v4.5M803.41 509.7v-4.5M803.41 295.8v4.5M809.21 509.7v-4.5M809.21 295.8v4.5M474.2 466.92h7.9M814.5 466.92h-7.9M474.2 424.14h7.9M814.5 424.14h-7.9M474.2 381.36h7.9M814.5 381.36h-7.9M474.2 338.58h7.9M814.5 338.58h-7.9M474.2 488.31h4.5M814.5 488.31h-4.5M474.2 445.53h4.5M814.5 445.53h-4.5M474.2 402.75h4.5M814.5 402.75h-4.5M474.2 359.97h4.5M814.5 359.97h-4.5M474.2 317.19h4.5M814.5 317.19h-4.5" fill="none" stroke="#000" stroke-width="1.6"/>
<text class="sa" x="481.1" y="529.2" font-family='"Liberation Sans", sans-serif' font-size="17.2" text-anchor="end">10</text>
<text class="sa" x="481.1" y="520.6" font-family='"Liberation Sans", sans-serif' font-size="12.3" text-anchor="start">5</text>
<text class="sa" x="594.5" y="529.2" font-family='"Liberation Sans", sans-serif' font-size="17.2" text-anchor="end">10</text>
<text class="sa" x="594.5" y="520.6" font-family='"Liberation Sans", sans-serif' font-size="12.3" text-anchor="start">6</text>
<text class="sa" x="707.9" y="529.2" font-family='"Liberation Sans", sans-serif' font-size="17.2" text-anchor="end">10</text>
<text class="sa" x="707.9" y="520.6" font-family='"Liberation Sans", sans-serif' font-size="12.3" text-anchor="start">7</text>
<text class="sa" x="821.3" y="529.2" font-family='"Liberation Sans", sans-serif' font-size="17.2" text-anchor="end">10</text>
<text class="sa" x="821.3" y="520.6" font-family='"Liberation Sans", sans-serif' font-size="12.3" text-anchor="start">8</text>
<text class="se" x="624.75" y="560.25" font-family='"Liberation Serif", serif' font-weight="bold" font-size="17.8" text-anchor="middle" textLength="39.2" lengthAdjust="spacingAndGlyphs">Time</text>
<text class="se" x="667.8" y="560.25" font-family='"Liberation Serif", serif' font-weight="bold" font-size="17.8" text-anchor="middle" textLength="30.1" lengthAdjust="spacingAndGlyphs">(yr)</text>
<text class="sa" transform="translate(464.2 509.7) rotate(-90)" font-family='"Liberation Sans", sans-serif' font-size="17.2" text-anchor="middle">0</text>
<text class="sa" transform="translate(464.2 466.92) rotate(-90)" font-family='"Liberation Sans", sans-serif' font-size="17.2" text-anchor="middle">0.2</text>
<text class="sa" transform="translate(464.2 424.14) rotate(-90)" font-family='"Liberation Sans", sans-serif' font-size="17.2" text-anchor="middle">0.4</text>
<text class="sa" transform="translate(464.2 381.36) rotate(-90)" font-family='"Liberation Sans", sans-serif' font-size="17.2" text-anchor="middle">0.6</text>
<text class="sa" transform="translate(464.2 338.58) rotate(-90)" font-family='"Liberation Sans", sans-serif' font-size="17.2" text-anchor="middle">0.8</text>
<text class="sa" transform="translate(464.2 295.8) rotate(-90)" font-family='"Liberation Sans", sans-serif' font-size="17.2" text-anchor="middle">1</text>
<text class="se" transform="translate(440.7 426.2) rotate(-90)" font-family='"Liberation Serif", serif' font-weight="bold" font-size="17.8" text-anchor="middle" textLength="91.2" lengthAdjust="spacingAndGlyphs">Inclination</text>
<text class="se" transform="translate(440.7 352.85) rotate(-90)" font-family='"Liberation Serif", serif' font-weight="bold" font-size="17.8" text-anchor="middle" textLength="37.9" lengthAdjust="spacingAndGlyphs">(deg)</text>
<text class="se" x="775.4" y="323.2" font-family='"Liberation Serif", serif' font-weight="bold" font-size="18.2" text-anchor="middle" textLength="23" lengthAdjust="spacingAndGlyphs">(d)</text>
</svg>
</body></html>
